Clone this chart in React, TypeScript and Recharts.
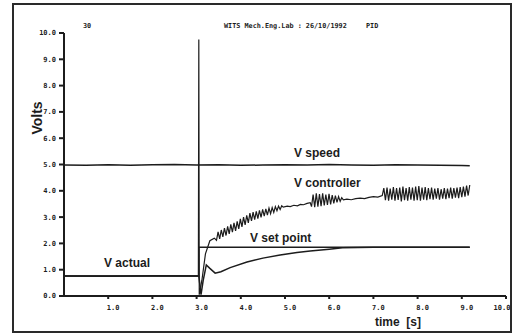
import { LineChart, Line, XAxis, YAxis } from 'recharts';

// [time (s), volts]
const vSpeed: [number, number][] = [
  [0, 4.98], [0.5, 4.97], [1, 4.99], [1.5, 4.97], [2, 4.99], [2.5, 5.0], [3, 4.98],
  [3.5, 4.99], [4, 4.97], [4.5, 4.98], [5, 4.99], [5.5, 4.98], [6, 5.0], [6.5, 4.98],
  [7, 4.97], [7.5, 4.99], [8, 4.98], [8.5, 4.97], [9, 4.96], [9.18, 4.95],
];

const vSetPoint: [number, number][] = [
  [0, 0.76], [3.05, 0.76], [3.05, 1.85], [9.18, 1.85],
];

const vActual: [number, number][] = [
  [0, 0.76], [1, 0.75], [2, 0.77], [3.05, 0.76], [3.1, 0.05], [3.15, 0.6], [3.22, 1.18],
  [3.3, 1.05], [3.42, 0.87], [3.55, 0.92], [3.76, 1.08], [4.14, 1.29], [4.5, 1.44],
  [4.89, 1.56], [5.27, 1.65], [5.57, 1.71], [6.0, 1.78], [6.3, 1.83], [7, 1.85], [9.18, 1.85],
];

const vController: [number, number][] = [
  [0, 0.76], [3.04, 0.76], [3.05, 9.75], [3.06, 0.05], [3.12, 0.6], [3.2, 1.6], [3.3, 2.1],
  [3.4, 2.2],
  [3.45, 2.12], [3.486, 2.44], [3.522, 2.17], [3.558, 2.51], [3.594, 2.25], [3.63, 2.58],
  [3.666, 2.3], [3.702, 2.65], [3.738, 2.36], [3.774, 2.72], [3.81, 2.43], [3.846, 2.78],
  [3.882, 2.48], [3.918, 2.84], [3.954, 2.55], [3.99, 2.93], [4.026, 2.63], [4.062, 3.0],
  [4.098, 2.7], [4.134, 3.07], [4.17, 2.78], [4.206, 3.15], [4.242, 2.86], [4.278, 3.19],
  [4.314, 2.9], [4.35, 3.22], [4.386, 2.94], [4.422, 3.26], [4.458, 2.99], [4.494, 3.29],
  [4.53, 3.04], [4.566, 3.31], [4.602, 3.08], [4.638, 3.34], [4.674, 3.13], [4.71, 3.36],
  [4.746, 3.18], [4.782, 3.4], [4.818, 3.24], [4.854, 3.42], [4.89, 3.29], [4.926, 3.43],
  [4.96, 3.38], [5.05, 3.42], [5.12, 3.4], [5.2, 3.45], [5.28, 3.43], [5.35, 3.48],
  [5.42, 3.47], [5.5, 3.52], [5.57, 3.55],
  [5.6, 3.4], [5.636, 3.86], [5.672, 3.38], [5.708, 3.9], [5.744, 3.4], [5.78, 3.88],
  [5.816, 3.42], [5.852, 3.9], [5.888, 3.44], [5.924, 3.86], [5.96, 3.46], [5.996, 3.88],
  [6.032, 3.48], [6.068, 3.84], [6.104, 3.52], [6.14, 3.82], [6.176, 3.56], [6.212, 3.78],
  [6.248, 3.6], [6.284, 3.74],
  [6.32, 3.66], [6.4, 3.68], [6.5, 3.66], [6.6, 3.7], [6.7, 3.72], [6.8, 3.7], [6.9, 3.75],
  [7.0, 3.78], [7.1, 3.76], [7.2, 3.82],
  [7.236, 4.1], [7.272, 3.64], [7.308, 4.12], [7.344, 3.62], [7.38, 4.08], [7.416, 3.66],
  [7.452, 4.14], [7.488, 3.62], [7.524, 4.1], [7.56, 3.65], [7.596, 4.12], [7.632, 3.6],
  [7.668, 4.16], [7.704, 3.64], [7.74, 4.1], [7.776, 3.62], [7.812, 4.14], [7.848, 3.66],
  [7.884, 4.12], [7.92, 3.62], [7.956, 4.16], [7.992, 3.64], [8.028, 4.18], [8.064, 3.62],
  [8.1, 4.12], [8.136, 3.66], [8.172, 4.14], [8.208, 3.64], [8.244, 4.1], [8.28, 3.68],
  [8.316, 4.12], [8.352, 3.66], [8.388, 4.08], [8.424, 3.7], [8.46, 4.1], [8.496, 3.66],
  [8.532, 4.06], [8.568, 3.7], [8.604, 4.1], [8.64, 3.68], [8.676, 4.08], [8.712, 3.72],
  [8.748, 4.12], [8.784, 3.7], [8.82, 4.1], [8.856, 3.74], [8.892, 4.12], [8.928, 3.72],
  [8.964, 4.14], [9.0, 3.76], [9.036, 4.16], [9.072, 3.78], [9.108, 4.2], [9.144, 3.82],
  [9.18, 4.22],
];

const xTicks = [1, 2, 3, 4, 5, 6, 7, 8, 9, 10];
const yTicks = [0, 1, 2, 3, 4, 5, 6, 7, 8, 9, 10];

const toRows = (pts: [number, number][]) => pts.map(([t, v]) => ({ t, v }));

const INK = '#1c1c1c';
const tickFont = { fontSize: 7, fontWeight: 700, fontFamily: 'DejaVu Sans Mono', fill: INK };

// x labels sit a little right of their ticks on the original; the last one is pulled in to stay inside the frame
function XTick(props: any) {
  const { x, y, payload } = props;
  const last = payload.value === 10;
  return (
    <text x={x + (last ? -4 : 5)} y={y + 8} textAnchor="middle" {...tickFont}>
      {Number(payload.value).toFixed(1)}
    </text>
  );
}

export default function App() {
  return (
    <div style={{ position: 'absolute', left: 0, top: 0, width: 517, height: 335, overflow: 'hidden', background: '#fff' }}>
      <LineChart width={517} height={335} margin={{ top: 33, right: 11, bottom: 9, left: 0 }}>
        <XAxis
          type="number"
          dataKey="t"
          domain={[0, 10]}
          ticks={xTicks}
          height={30}
          stroke={INK}
          strokeWidth={2}
          tickSize={3}
          tickMargin={3}
          tick={<XTick />}
          allowDataOverflow
        />
        <YAxis
          type="number"
          domain={[0, 10]}
          ticks={yTicks}
          tickFormatter={(v: number) => v.toFixed(1)}
          width={64}
          stroke={INK}
          strokeWidth={2}
          tickSize={5}
          tickMargin={3}
          tick={tickFont}
          allowDataOverflow
        />
        <Line data={toRows(vSpeed)} dataKey="v" type="linear" stroke={INK} strokeWidth={1.5} dot={false} isAnimationActive={false} />
        <Line data={toRows(vSetPoint)} dataKey="v" type="linear" stroke={INK} strokeWidth={1.5} dot={false} isAnimationActive={false} />
        <Line data={toRows(vActual)} dataKey="v" type="linear" stroke={INK} strokeWidth={1.5} dot={false} isAnimationActive={false} />
        <Line data={toRows(vController)} dataKey="v" type="linear" stroke={INK} strokeWidth={1.2} dot={false} isAnimationActive={false} />
      </LineChart>

      <svg width={517} height={335} style={{ position: 'absolute', left: 0, top: 0, pointerEvents: 'none' }}>
        <g fontFamily="DejaVu Sans Mono" fontWeight={700} fontSize={6.8} fill={INK}>
          <text x={83} y={28}>30</text>
          <text x={224} y={28}>WITS Mech.Eng.Lab : 26/10/1992</text>
          <text x={366} y={28}>PID</text>
        </g>
        <g fontFamily="Liberation Sans" fontWeight={700} fontSize={12} fill={INK}>
          <text x={294} y={157}>V speed</text>
          <text x={294} y={187}>V controller</text>
          <text x={250} y={242}>V set point</text>
          <text x={104} y={267}>V actual</text>
          <text x={375} y={326} xmlSpace="preserve">time  [s]</text>
          <text x={42} y={118} fontSize={14} textAnchor="middle" transform="rotate(-90 42 118)">Volts</text>
        </g>
      </svg>

      <div style={{ position: 'absolute', left: 12, top: 3, width: 500, height: 330, border: '2px solid #2a2a2a', boxSizing: 'border-box', pointerEvents: 'none' }} />
    </div>
  );
}
